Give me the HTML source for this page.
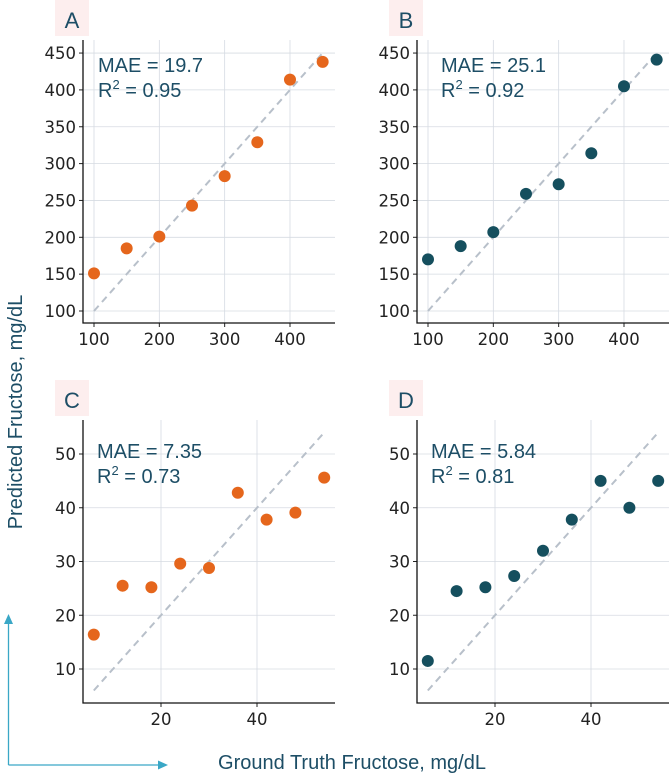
<!DOCTYPE html>
<html><head><meta charset="utf-8"><style>
body{margin:0;background:#fff}
</style></head><body>
<svg id="fig" width="669" height="775" viewBox="0 0 669 775" xmlns="http://www.w3.org/2000/svg">
<text x="22" y="412" transform="rotate(-90 22 412)" text-anchor="middle" font-size="20" fill="#1d4e66" font-family="Liberation Sans, sans-serif">Predicted Fructose, mg/dL</text>
<text x="352" y="769" text-anchor="middle" font-size="20" fill="#1d4e66" font-family="Liberation Sans, sans-serif">Ground Truth Fructose, mg/dL</text>
<g stroke="#3aa7c6" stroke-width="1.3" fill="#3aa7c6">
<line x1="8.5" y1="765" x2="8.5" y2="622"/><polygon points="4,624 13,624 8.5,614" stroke="none"/>
<line x1="8.5" y1="765" x2="160" y2="765"/><polygon points="158,760.5 158,769.5 168,765" stroke="none"/>
</g>
</svg>
<script>
const aTruth=[100,150,200,250,300,350,400,450];
const aPred=[151,185,201,243,283,329,414,438];
const bTruth=[100,150,200,250,300,350,400,450];
const bPred=[170,188,207,259,272,314,405,441];
const cTruth=[6,12,18,24,30,36,42,48,54];
const cPred=[16.4,25.5,25.2,29.6,28.8,42.8,37.8,39.1,45.6];
const dTruth=[6,12,18,24,30,36,42,48,54];
const dPred=[11.5,24.5,25.2,27.3,32,37.8,45,40,45];
const topXTicks=[100,200,300,400];
const topYTicks=[100,150,200,250,300,350,400,450];
const botXTicks=[20,40];
const botYTicks=[10,20,30,40,50];
const NS='http://www.w3.org/2000/svg';
const svg=document.getElementById('fig');
const TICKF='DejaVu Sans, sans-serif', ANNF='Liberation Sans, sans-serif';
function mk(tag,attrs,parent){const e=document.createElementNS(NS,tag);for(const k in attrs)e.setAttribute(k,attrs[k]);(parent||svg).appendChild(e);return e;}
const panels=[
 {id:'a',label:'A',ox:0,oy:0,tx:aTruth,ty:aPred,xt:topXTicks,yt:topYTicks,x0:100,px0:94,xs:0.6533,y0:100,py0:311,ys:0.737,left:83,bottom:323,top:40,right:335,diag:[100,450],col:'#e5661c',mae:'19.7',r2:'0.95',txtx:98,txty:72},
 {id:'b',label:'B',ox:334,oy:0,tx:bTruth,ty:bPred,xt:topXTicks,yt:topYTicks,x0:100,px0:94,xs:0.6533,y0:100,py0:311,ys:0.737,left:83,bottom:323,top:40,right:335,diag:[100,450],col:'#154f5e',mae:'25.1',r2:'0.92',txtx:107,txty:72},
 {id:'c',label:'C',ox:0,oy:0,tx:cTruth,ty:cPred,xt:botXTicks,yt:botYTicks,x0:20,px0:161,xs:4.8,y0:10,py0:669,ys:5.375,left:83,bottom:703,top:420,right:335,diag:[6,54],col:'#e5661c',mae:'7.35',r2:'0.73',txtx:97,txty:458},
 {id:'d',label:'D',ox:334,oy:0,tx:dTruth,ty:dPred,xt:botXTicks,yt:botYTicks,x0:20,px0:161,xs:4.8,y0:10,py0:669,ys:5.375,left:83,bottom:703,top:420,right:335,diag:[6,54],col:'#154f5e',mae:'5.84',r2:'0.81',txtx:97,txty:458}
];
panels.forEach(p=>{
 const g=mk('g',{transform:`translate(${p.ox},${p.oy})`});
 
 
 const X=v=>p.px0+(v-p.x0)*p.xs, Y=v=>p.py0-(v-p.y0)*p.ys;
 const lb=mk('rect',{x:p.left-28,y:p.top-40,width:34,height:36,fill:'#fdeeee'},g);
 
 
 const lt=mk('text',{x:p.left-11,y:p.top-12,'text-anchor':'middle','font-size':22,fill:'#1d4e66','font-family':ANNF},g);
 lt.textContent=p.label;
 
 
 p.xt.forEach(t=>{
  const l=mk('line',{x1:X(t),x2:X(t),y1:p.top,y2:p.bottom,stroke:'#d6dbe2','stroke-width':0.8},g);
  
  
  mk('line',{x1:X(t),x2:X(t),y1:p.bottom,y2:p.bottom+4,stroke:'#222'},g);
  const tx=mk('text',{x:X(t),y:p.bottom+22,'text-anchor':'middle','font-size':16.5,fill:'#222','font-family':TICKF},g);
  tx.textContent=t;
  
  
 });
 p.yt.forEach(t=>{
  const l=mk('line',{x1:p.left,x2:p.right,y1:Y(t),y2:Y(t),stroke:'#d6dbe2','stroke-width':0.8},g);
  
  
  mk('line',{x1:p.left-4,x2:p.left,y1:Y(t),y2:Y(t),stroke:'#222'},g);
  const ty=mk('text',{x:p.left-7,y:Y(t)+6,'text-anchor':'end','font-size':16.5,fill:'#222','font-family':TICKF},g);
  ty.textContent=t;
  
  
 });
 const sp=mk('path',{d:`M${p.left},${p.top} V${p.bottom} H${p.right}`,fill:'none',stroke:'#111','stroke-width':1.3},g);
 
 
 const dl=mk('line',{x1:X(p.diag[0]),y1:Y(p.diag[0]),x2:X(p.diag[1]),y2:Y(p.diag[1]),stroke:'#b8c0ca','stroke-width':2,'stroke-dasharray':'7,5'},g);
 
 
 p.tx.forEach((v,i)=>{
  const c=mk('circle',{cx:X(v),cy:Y(p.ty[i]),r:6,fill:p.col},g);
  
  
 });
 const t1=mk('text',{x:p.txtx,y:p.txty,'font-size':20,fill:'#1d4e66','font-family':ANNF},g);
 t1.textContent='MAE = '+p.mae;
 
 
 const t2=mk('text',{x:p.txtx,y:p.txty+25,'font-size':20,fill:'#1d4e66','font-family':ANNF},g);
 t2.innerHTML='R<tspan dy="-8" font-size="13">2</tspan><tspan dy="8"> = '+p.r2+'</tspan>';
 
 
});
</script>
</body></html>
